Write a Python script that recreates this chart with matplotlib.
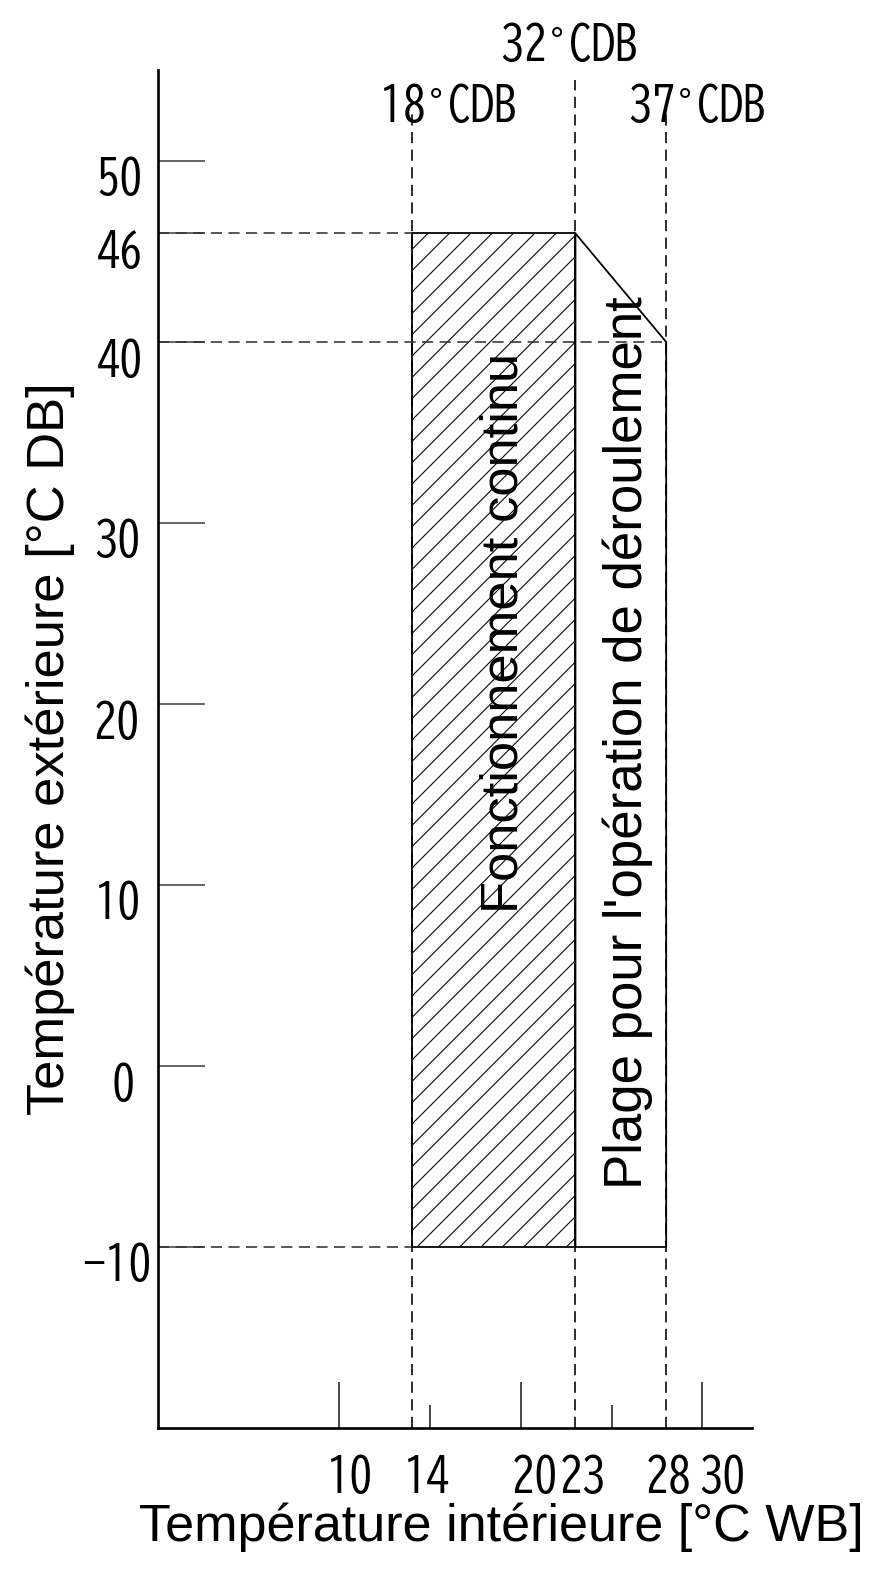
import matplotlib
matplotlib.use('Agg')
import matplotlib.pyplot as plt
from matplotlib import font_manager
from matplotlib.patches import Polygon, Rectangle

# plage de fonctionnement : T intérieure (°C WB) / T extérieure (°C DB)
wb_limits = [14, 23, 28]
cdb_labels = ['18°CDB', '32°CDB', '37°CDB']
db_min = -10
db_max_cont = 46
db_max_roll = 40

x_ticks_major = [10, 20, 30]
x_ticks_minor = [15, 25]
x_labels = [10, 14, 20, 23, 28, 30]
y_ticks = [-10, 0, 10, 20, 30, 40, 46, 50]

DPI = 128
PT = 72 / DPI  # px -> points
SCALE = 18.15  # px par degré

installed = {f.name for f in font_manager.fontManager.ttflist}


def pick(cands):
    return [c for c in cands if c in installed] + ['DejaVu Sans']


narrow = pick(['BIZ UDGothic', 'Liberation Sans Narrow', 'Roboto Condensed'])
sans = pick(['Liberation Sans', 'Arimo'])
plt.rcParams['hatch.linewidth'] = 0.6
plt.rcParams['hatch.color'] = 'black'

fig = plt.figure(figsize=(891 / DPI, 1573 / DPI), dpi=DPI)
ax = fig.add_axes([158 / 891, 145 / 1573, 594 / 891, 1358 / 1573])
ax.set_xlim(0, 594 / SCALE)
ax.set_ylim(-20, -20 + 1358 / 18.1)

for s in ['top', 'right']:
    ax.spines[s].set_visible(False)
for s in ['left', 'bottom']:
    ax.spines[s].set_linewidth(1.5)

ax.set_yticks(y_ticks)
ax.tick_params(axis='y', direction='in', length=47 * PT, width=0.9,
               color='#444444', labelleft=False)
ax.set_xticks(x_ticks_major)
ax.set_xticks(x_ticks_minor, minor=True)
ax.tick_params(axis='x', which='major', direction='in', length=46 * PT,
               width=0.9, color='#222222', labelbottom=False)
ax.tick_params(axis='x', which='minor', direction='in', length=23 * PT,
               width=0.9, color='#222222')

dash = (0, (7, 4))
x_cont0, x_cont1, x_roll = wb_limits

# lignes de repère en pointillés
vline_top = [52.9, 54.5, 52.7]
for wb, top in zip(wb_limits, vline_top):
    ax.plot([wb, wb], [-20, top], color='black', lw=0.9, ls=dash)
for db in [db_max_cont, db_min]:
    ax.plot([0, x_cont0], [db, db], color='#333333', lw=0.9, ls=dash)
ax.plot([0, x_roll], [db_max_roll, db_max_roll], color='#333333', lw=0.9, ls=dash)

# zone de fonctionnement continu (hachurée)
ax.add_patch(Rectangle((x_cont0, db_min), x_cont1 - x_cont0, db_max_cont - db_min,
                       facecolor='none', edgecolor='black', lw=1.0, hatch='//'))
# zone de déroulement
ax.add_patch(Polygon([(x_cont1, db_min), (x_cont1, db_max_cont),
                      (x_roll, db_max_roll), (x_roll, db_min)],
                     closed=True, facecolor='none', edgecolor='black', lw=1.0))

# textes CDB au-dessus (le ° de la police japonaise est pleine chasse)
cdb_dx = [1.95, -0.4, 1.7]
cdb_y = [53.1, 56.5, 53.1]
for wb, lab, dx, y in zip(wb_limits, cdb_labels, cdb_dx, cdb_y):
    ax.text(wb + dx, y, lab.replace('°', r'$^{\circ}$'), ha='center', va='center',
            fontsize=26, family=narrow)

# étiquettes des axes
x_lab_dx = [10, 14, 14, 7, 3, 20]
for v, dx in zip(x_labels, x_lab_dx):
    ax.annotate(str(v), xy=(v, 0), xycoords=('data', 'axes fraction'),
                xytext=(dx * PT, -25 * PT), textcoords='offset points',
                ha='center', va='top', fontsize=26, family=narrow)

y_lab_pad = [6, 23, 18, 18, 18, 15, 15, 15]
for v, pad in zip(y_ticks, y_lab_pad):
    ax.annotate(str(v).replace('-', '−'), xy=(0, v), xycoords=('axes fraction', 'data'),
                xytext=(-pad * PT, -17 * PT), textcoords='offset points',
                ha='right', va='center', fontsize=26, family=narrow)

ax.text(19.09, 23.95, 'Fonctionnement continu', rotation=90, ha='center',
        va='center', fontsize=29.5, family=sans)
ax.text(25.9, 17.87, "Plage pour l'opération de déroulement", rotation=90,
        ha='center', va='center', fontsize=29.7, family=sans)

ax.set_xlabel('Température intérieure [°C WB]', fontsize=29.3, family=sans, va='center')
ax.xaxis.set_label_coords((501 - 158) / 594, (1428 - 1527) / 1358)
ax.set_ylabel('Température extérieure [°C DB]', fontsize=29.5, family=sans, va='center')
ax.yaxis.set_label_coords((50 - 158) / 594, 0.5)

plt.savefig('out.png', dpi=DPI)
plt.close()
